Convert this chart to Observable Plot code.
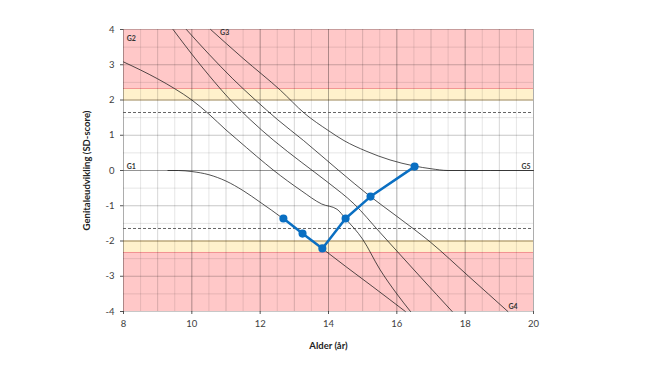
<!DOCTYPE html>
<html><head><meta charset="utf-8">
<script src="https://cdn.jsdelivr.net/npm/d3@7"></script>
<script src="https://cdn.jsdelivr.net/npm/@observablehq/plot@0.6"></script>
<style>body{margin:0;background:#fff}</style>
</head><body><div id="chart"></div>
<script>
// Axes
const ageDomain = [8, 20];
const sdDomain = [-4, 4];
const xTicks = [8, 10, 12, 14, 16, 18, 20];
const yTicks = [-4, -3, -2, -1, 0, 1, 2, 3, 4];

// Reference zones (SD)
const redBands = [{lo: 2.326, hi: 4}, {lo: -4, hi: -2.326}];
const yellowBands = [{lo: 2, hi: 2.326}, {lo: -2.326, hi: -2}];
const dashedLevels = [1.645, -1.645];

// Stage curves (age in years, SD-score)
const g1Age = [9.3, 9.6, 10, 10.5, 11, 11.5, 12, 12.65, 13.2, 13.8, 14.5, 15.3, 16.25];
const g1Sd  = [0, 0, -0.03, -0.12, -0.3, -0.57, -0.9, -1.35, -1.77, -2.2, -2.72, -3.3, -4];
const g2Age = [8, 8.5, 9, 9.5, 10, 10.5, 11, 11.3, 11.9, 12.4, 13.2, 13.8, 14.25, 14.5, 15, 15.5, 16, 16.4];
const g2Sd  = [3.08, 2.85, 2.6, 2.32, 2.0, 1.6, 1.15, 0.9, 0.4, 0, -0.57, -0.95, -1.1, -1.37, -1.95, -2.8, -3.5, -4];
const g3Age = [9.45, 10, 10.5, 11.13, 11.7, 12.4, 13.2, 14, 14.75, 15.5, 16.7, 17.62];
const g3Sd  = [4, 3.3, 2.7, 2.0, 1.45, 0.85, 0.24, -0.35, -0.95, -1.75, -3.03, -4];
const g4Age = [9.84, 10.5, 11.2, 11.86, 12.5, 13.27, 14.3, 15.2, 16.0, 16.98, 18.1, 19.25];
const g4Sd  = [4, 3.3, 2.6, 2.0, 1.45, 0.85, 0, -0.72, -1.3, -2.03, -3.0, -4];
const g5Age = [10.55, 11.5, 12.6, 13.3, 14.0, 14.45, 15.1, 15.8, 16.5, 17.0, 17.5, 20];
const g5Sd  = [4, 3.18, 2.27, 1.62, 1.13, 0.85, 0.55, 0.3, 0.13, 0.05, 0, 0];

// Curve labels
const curveNames = ["G1", "G2", "G3", "G4", "G5"];
const labelAge = [8.23, 8.23, 10.96, 19.4, 19.78];
const labelSd  = [0.12, 3.74, 3.9, -3.87, 0.12];

// Patient measurements
const patientAge = [12.68, 13.24, 13.82, 14.5, 15.23, 16.52];
const patientSd  = [-1.36, -1.79, -2.21, -1.36, -0.74, 0.11];

const curveAges = [g1Age, g2Age, g3Age, g4Age, g5Age];
const curveSds = [g1Sd, g2Sd, g3Sd, g4Sd, g5Sd];
const curveRows = curveNames.flatMap((n, i) => curveAges[i].map((a, j) => ({name: n, age: a, sd: curveSds[i][j]})));
const labelRows = curveNames.map((n, i) => ({name: n, age: labelAge[i], sd: labelSd[i]}));
const patientRows = patientAge.map((a, i) => ({age: a, sd: patientSd[i]}));

const halfX = d3.range(ageDomain[0], ageDomain[1] + 0.001, 0.5);
const halfY = d3.range(sdDomain[0], sdDomain[1] + 0.001, 0.5);

const plot = Plot.plot({
  width: 663, height: 373,
  marginLeft: 123, marginRight: 130, marginTop: 29, marginBottom: 62,
  style: {fontFamily: "Lato, 'Open Sans', sans-serif", fontSize: "9.5px", color: "#404040", background: "#fff"},
  x: {domain: ageDomain, ticks: xTicks, tickSize: 3, tickPadding: 6, tickFormat: d => String(d),
      label: "Alder (år)", labelAnchor: "center", labelOffset: 37, labelArrow: "none"},
  y: {domain: sdDomain, ticks: yTicks, tickSize: 3, tickPadding: 6, tickFormat: d => String(d),
      label: "Genitaleudvikling (SD-score)", labelAnchor: "center", labelOffset: 40, labelArrow: "none"},
  marks: [
    Plot.rect(redBands, {x1: ageDomain[0], x2: ageDomain[1], y1: "lo", y2: "hi", fill: "#ffc8c8"}),
    Plot.rect(yellowBands, {x1: ageDomain[0], x2: ageDomain[1], y1: "lo", y2: "hi", fill: "#fff1cc"}),
    Plot.ruleY([redBands[0].lo, redBands[1].hi], {stroke: "#f08c8c", strokeWidth: 0.9}),
    Plot.ruleY([yellowBands[0].lo, yellowBands[1].hi], {stroke: "#c8aa6e", strokeWidth: 0.9}),
    // grid
    Plot.ruleX(halfX.filter(v => v % 1 !== 0), {stroke: "#000", strokeOpacity: 0.1, strokeWidth: 1}),
    Plot.ruleX(halfX.filter(v => v % 1 === 0 && v % 2 !== 0), {stroke: "#000", strokeOpacity: 0.16, strokeWidth: 1}),
    Plot.ruleX(halfX.filter(v => v % 2 === 0), {stroke: "#000", strokeOpacity: 0.32, strokeWidth: 1}),
    Plot.ruleY(halfY.filter(v => v % 1 !== 0), {stroke: "#000", strokeOpacity: 0.1, strokeWidth: 1}),
    Plot.ruleY(halfY.filter(v => v % 1 === 0 && v !== 0), {stroke: "#000", strokeOpacity: 0.22, strokeWidth: 1}),
    Plot.ruleY([0], {stroke: "#000", strokeOpacity: 0.42, strokeWidth: 1}),
    Plot.ruleY(dashedLevels, {stroke: "#555", strokeWidth: 0.9, strokeDasharray: "3,2"}),
    // stage curves
    Plot.line(curveRows, {x: "age", y: "sd", z: "name", stroke: "#1a1a1a", strokeWidth: 0.75, curve: "monotone-x"}),
    Plot.text(labelRows, {x: "age", y: "sd", text: "name", fill: "#333", fontSize: 7, fontWeight: "bold"}),
    // patient
    Plot.line(patientRows, {x: "age", y: "sd", stroke: "#0a6fc2", strokeWidth: 2.5}),
    Plot.dot(patientRows, {x: "age", y: "sd", r: 3.3, fill: "#0a6fc2", stroke: "#0a6fc2"})
  ]
});
document.getElementById("chart").appendChild(plot);
d3.select(plot).selectAll('[aria-label="x-axis label"] text, [aria-label="y-axis label"] text, [aria-label="x-axis label"], [aria-label="y-axis label"]')
  .attr("font-weight", "bold").attr("font-size", "9.5px").attr("fill", "#222");
d3.select(plot).selectAll('[aria-label="x-axis label"] text, [aria-label="y-axis label"] text').each(function() {
  const t = d3.select(this);
  t.text(t.text().replace(/\s*[→↑←↓]\s*/g, "").trim());
});
d3.select(plot).selectAll('[aria-label="x-axis tick"], [aria-label="y-axis tick"]').attr("stroke", "#555");
</script>
</body></html>
